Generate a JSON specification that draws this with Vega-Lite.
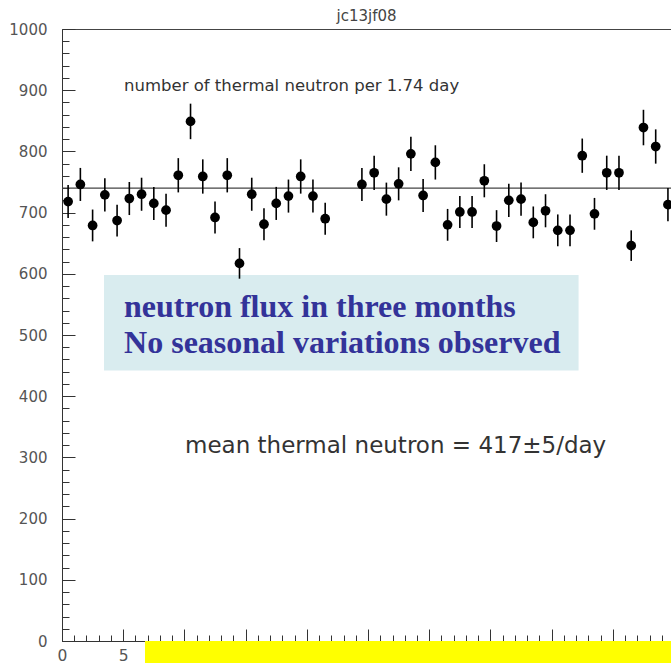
{
  "$schema": "https://vega.github.io/schema/vega-lite/v6.json",
  "autosize": {"type": "none"},
  "padding": {"left": 62, "top": 29, "right": 0, "bottom": 22},
  "width": 609,
  "height": 612,
  "background": "white",
  "title": {"text": "jc13jf08", "anchor": "middle", "fontSize": 15, "font": "DejaVu Sans", "fontWeight": "normal", "color": "#444", "offset": -2},
  "config": {
    "view": {"stroke": null},
    "axis": {"grid": false, "title": null, "domainColor": "#333", "tickColor": "#333", "labelFont": "DejaVu Sans", "labelFontSize": 15, "labelColor": "#555", "domainWidth": 1, "tickWidth": 1}
  },
  "datasets": {
    "flux": [
      {"bin": 0.5, "count": 718, "lo": 691, "hi": 745},
      {"bin": 1.5, "count": 746, "lo": 719, "hi": 773},
      {"bin": 2.5, "count": 679, "lo": 653, "hi": 705},
      {"bin": 3.5, "count": 729, "lo": 702, "hi": 756},
      {"bin": 4.5, "count": 687, "lo": 661, "hi": 713},
      {"bin": 5.5, "count": 723, "lo": 696, "hi": 750},
      {"bin": 6.5, "count": 730, "lo": 703, "hi": 757},
      {"bin": 7.5, "count": 715, "lo": 688, "hi": 742},
      {"bin": 8.5, "count": 704, "lo": 677, "hi": 731},
      {"bin": 9.5, "count": 761, "lo": 733, "hi": 789},
      {"bin": 10.5, "count": 849, "lo": 820, "hi": 878},
      {"bin": 11.5, "count": 759, "lo": 731, "hi": 787},
      {"bin": 12.5, "count": 692, "lo": 666, "hi": 718},
      {"bin": 13.5, "count": 761, "lo": 733, "hi": 789},
      {"bin": 14.5, "count": 617, "lo": 592, "hi": 642},
      {"bin": 15.5, "count": 730, "lo": 703, "hi": 757},
      {"bin": 16.5, "count": 681, "lo": 655, "hi": 707},
      {"bin": 17.5, "count": 715, "lo": 688, "hi": 742},
      {"bin": 18.5, "count": 727, "lo": 700, "hi": 754},
      {"bin": 19.5, "count": 759, "lo": 731, "hi": 787},
      {"bin": 20.5, "count": 727, "lo": 700, "hi": 754},
      {"bin": 21.5, "count": 690, "lo": 664, "hi": 716},
      {"bin": 24.5, "count": 746, "lo": 719, "hi": 773},
      {"bin": 25.5, "count": 765, "lo": 737, "hi": 793},
      {"bin": 26.5, "count": 722, "lo": 695, "hi": 749},
      {"bin": 27.5, "count": 747, "lo": 720, "hi": 774},
      {"bin": 28.5, "count": 796, "lo": 768, "hi": 824},
      {"bin": 29.5, "count": 728, "lo": 701, "hi": 755},
      {"bin": 30.5, "count": 782, "lo": 754, "hi": 810},
      {"bin": 31.5, "count": 680, "lo": 654, "hi": 706},
      {"bin": 32.5, "count": 701, "lo": 675, "hi": 727},
      {"bin": 33.5, "count": 701, "lo": 675, "hi": 727},
      {"bin": 34.5, "count": 752, "lo": 725, "hi": 779},
      {"bin": 35.5, "count": 678, "lo": 652, "hi": 704},
      {"bin": 36.5, "count": 720, "lo": 693, "hi": 747},
      {"bin": 37.5, "count": 722, "lo": 695, "hi": 749},
      {"bin": 38.5, "count": 684, "lo": 658, "hi": 710},
      {"bin": 39.5, "count": 703, "lo": 676, "hi": 730},
      {"bin": 40.5, "count": 671, "lo": 645, "hi": 697},
      {"bin": 41.5, "count": 671, "lo": 645, "hi": 697},
      {"bin": 42.5, "count": 793, "lo": 765, "hi": 821},
      {"bin": 43.5, "count": 698, "lo": 672, "hi": 724},
      {"bin": 44.5, "count": 765, "lo": 737, "hi": 793},
      {"bin": 45.5, "count": 765, "lo": 737, "hi": 793},
      {"bin": 46.5, "count": 646, "lo": 621, "hi": 671},
      {"bin": 47.5, "count": 839, "lo": 810, "hi": 868},
      {"bin": 48.5, "count": 808, "lo": 780, "hi": 836},
      {"bin": 49.5, "count": 713, "lo": 686, "hi": 740}
    ]
  },
  "resolve": {"axis": {"x": "independent", "y": "independent"}},
  "layer": [
    {
      "data": {"values": [{"k": "frame"}]},
      "mark": {"type": "rect", "color": "#d9ecef"},
      "encoding": {
        "x": {"datum": 3.43, "type": "quantitative", "scale": {"domain": [0, 49.75], "nice": false, "zero": false}, "axis": {"orient": "top", "ticks": false, "labels": false, "domain": true, "domainColor": "#444"}},
        "x2": {"datum": 42.2},
        "y": {"datum": 598, "type": "quantitative", "scale": {"domain": [0, 1000], "nice": false}, "axis": null},
        "y2": {"datum": 442}
      }
    },
    {
      "data": {"values": [{"k": "yellow"}]},
      "mark": {"type": "rect", "color": "#ffff00"},
      "encoding": {
        "x": {"datum": 6.78, "type": "quantitative", "axis": null},
        "x2": {"datum": 49.75},
        "y": {"datum": 0, "type": "quantitative", "axis": null},
        "y2": {"datum": -36}
      }
    },
    {
      "data": {"values": [{"k": "mean"}]},
      "mark": {"type": "rule", "color": "#444", "strokeWidth": 1.3},
      "encoding": {
        "y": {"datum": 740, "type": "quantitative", "axis": null}
      }
    },
    {
      "data": {"name": "flux"},
      "mark": {"type": "rule", "color": "#000", "strokeWidth": 1.6},
      "encoding": {
        "x": {"field": "bin", "type": "quantitative", "axis": {"orient": "bottom", "values": [0,1,2,3,4,5,6,7,8,9,10,11,12,13,14,15,16,17,18,19,20,21,22,23,24,25,26,27,28,29,30,31,32,33,34,35,36,37,38,39,40,41,42,43,44,45,46,47,48,49], "tickSize": -6, "labels": false, "domain": false}},
        "y": {"field": "lo", "type": "quantitative", "axis": {"orient": "left", "values": [0,20,40,60,80,100,120,140,160,180,200,220,240,260,280,300,320,340,360,380,400,420,440,460,480,500,520,540,560,580,600,620,640,660,680,700,720,740,760,780,800,820,840,860,880,900,920,940,960,980,1000], "tickSize": -7, "labels": false, "domain": false}},
        "y2": {"field": "hi"}
      }
    },
    {
      "data": {"name": "flux"},
      "mark": {"type": "circle", "color": "#000", "opacity": 1, "size": 95},
      "encoding": {
        "x": {"field": "bin", "type": "quantitative", "axis": {"orient": "bottom", "values": [0,5,10,15,20,25,30,35,40,45], "tickSize": -12, "labelPadding": 19, "labelFontSize": 15.5, "labelFlush": false, "labelBaseline": "top", "labelExpr": "datum.value <= 5 ? datum.label : ''"}},
        "y": {"field": "count", "type": "quantitative", "axis": {"orient": "left", "values": [0,100,200,300,400,500,600,700,800,900,1000], "format": "d", "tickSize": -13, "labelPadding": 28}}
      }
    },
    {
      "data": {"values": [{"label": "number of thermal neutron per 1.74 day"}]},
      "mark": {"type": "text", "align": "left", "baseline": "middle", "font": "DejaVu Sans", "fontSize": 16.5, "color": "#333"},
      "encoding": {
        "x": {"datum": 5.07, "type": "quantitative", "axis": null},
        "y": {"datum": 907, "type": "quantitative", "axis": null},
        "text": {"field": "label"}
      }
    },
    {
      "data": {"values": [{"label": "neutron flux in three months"}]},
      "mark": {"type": "text", "align": "left", "baseline": "middle", "font": "Liberation Serif", "fontWeight": "bold", "fontSize": 32, "color": "#333399"},
      "encoding": {
        "x": {"datum": 5.07, "type": "quantitative", "axis": null},
        "y": {"datum": 546, "type": "quantitative", "axis": null},
        "text": {"field": "label"}
      }
    },
    {
      "data": {"values": [{"label": "No seasonal variations observed"}]},
      "mark": {"type": "text", "align": "left", "baseline": "middle", "font": "Liberation Serif", "fontWeight": "bold", "fontSize": 32, "color": "#333399"},
      "encoding": {
        "x": {"datum": 5.07, "type": "quantitative", "axis": null},
        "y": {"datum": 487, "type": "quantitative", "axis": null},
        "text": {"field": "label"}
      }
    },
    {
      "data": {"values": [{"label": "mean thermal neutron = 417±5/day"}]},
      "mark": {"type": "text", "align": "left", "baseline": "middle", "font": "DejaVu Sans", "fontSize": 23, "color": "#333"},
      "encoding": {
        "x": {"datum": 10.05, "type": "quantitative", "axis": null},
        "y": {"datum": 318, "type": "quantitative", "axis": null},
        "text": {"field": "label"}
      }
    }
  ]
}
